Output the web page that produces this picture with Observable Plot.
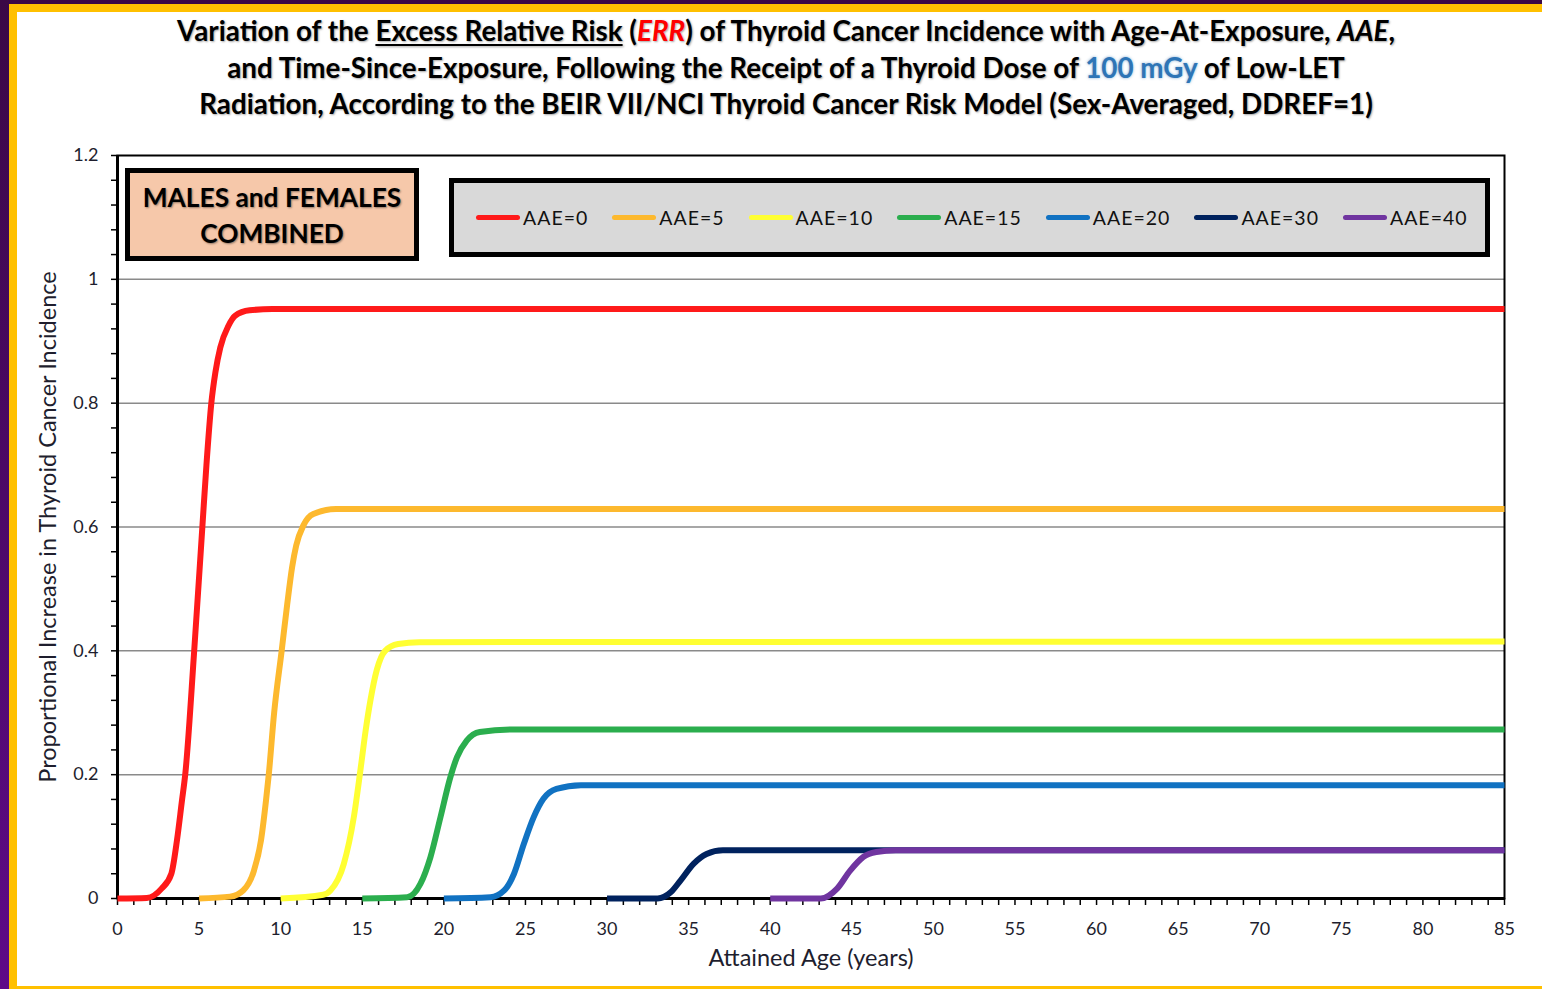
<!DOCTYPE html>
<html>
<head>
<meta charset="utf-8">
<script src="https://cdn.jsdelivr.net/npm/d3@7"></script>
<script src="https://cdn.jsdelivr.net/npm/@observablehq/plot@0.6"></script>
<style>
  html, body { margin: 0; padding: 0; }
  body {
    width: 1542px; height: 989px; overflow: hidden; position: relative;
    background: linear-gradient(to bottom, #3a0846, #5e0a88);
    font-family: Lato, "Open Sans", sans-serif;
  }
  #panel {
    position: absolute; left: 9px; top: 4px; width: 1600px; height: 974px;
    border: 8px solid #FFC000; background: #fff;
  }
  #chart { position: absolute; left: 0; top: 0; }
  #title {
    position: absolute; left: 136px; width: 1300px; top: 13px;
    text-align: center; font-weight: 700; font-size: 27.8px; line-height: 36.5px;
    color: #000; text-shadow: 1px 1px 2px rgba(0,0,0,0.35);
  }
  #title u { text-decoration-thickness: 2px; text-underline-offset: 3px; }
  #title .err { color: #ff0000; font-style: italic; }
  #title .dose { color: #2e75b6; text-shadow: 0 0 3px rgba(46,117,182,0.6); }
  #sexbox {
    position: absolute; left: 125px; top: 168px; width: 294px; height: 93px;
    box-sizing: border-box;
    border: 5px solid #000; background: #f6c8aa;
    display: flex; align-items: center; justify-content: center; text-align: center;
    font-weight: 700; font-size: 26.3px; line-height: 36px; color: #000;
    text-shadow: 1px 1px 2px rgba(0,0,0,0.4);
  }
  #legend {
    position: absolute; left: 449px; top: 178px; width: 1041px; height: 79px;
    box-sizing: border-box;
    border: 5px solid #000; background: #d9d9d9;
    display: flex; align-items: center; padding-left: 22px;
  }
  .item { display: flex; align-items: center; margin-right: 24px; font-size: 19.5px; letter-spacing: 1px; color: #111; }
  .swatch { width: 44px; height: 5px; border-radius: 3px; margin-right: 3px; }
</style>
</head>
<body>
<div id="panel"></div>
<div id="chart"></div>
<div id="title">Variation of the <u>Excess Relative Risk</u> (<span class="err">ERR</span>) of Thyroid Cancer Incidence with Age-At-Exposure, <i>AAE</i>,<br>and Time-Since-Exposure, Following the Receipt of a Thyroid Dose of <span class="dose">100 mGy</span> of Low-LET<br>Radiation, According to the BEIR VII/NCI Thyroid Cancer Risk Model (Sex-Averaged, DDREF=1)</div>
<div id="sexbox"><div>MALES and FEMALES<br>COMBINED</div></div>
<div id="legend"></div>
<script>
// Series names and colours
const seriesNames = ["AAE=0", "AAE=5", "AAE=10", "AAE=15", "AAE=20", "AAE=30", "AAE=40"];
const seriesColors = ["#ff1a1a", "#fdb92e", "#ffff33", "#2bae4e", "#1172c2", "#00225e", "#7035a0"];

// Attained age (years) and ERR values, per series
const age0 = [0, 1.8, 2.7, 3.3, 3.65, 3.95, 4.15, 4.7, 5.2, 5.45, 5.75, 6.0, 6.3, 6.8, 7.2, 8.1, 9.5, 85];
const err0 = [0, 0.001, 0.016, 0.04, 0.095, 0.158, 0.2, 0.4, 0.6, 0.7, 0.8, 0.85, 0.89, 0.925, 0.941, 0.95, 0.952, 0.952];
const age5 = [5, 6.9, 7.7, 8.35, 8.8, 9.1, 9.27, 9.6, 10.06, 10.4, 10.7, 10.95, 11.4, 12.0, 13.4, 85];
const err5 = [0, 0.003, 0.013, 0.044, 0.095, 0.158, 0.2, 0.3, 0.4, 0.475, 0.535, 0.57, 0.603, 0.621, 0.629, 0.629];
const age10 = [10, 12.6, 13.05, 13.87, 14.48, 14.9, 15.2, 15.5, 15.9, 16.4, 17.2, 18.5, 85];
const err10 = [0, 0.006, 0.013, 0.056, 0.131, 0.21, 0.27, 0.32, 0.37, 0.4, 0.411, 0.414, 0.415];
const age15 = [15, 17.75, 18.57, 19.18, 19.79, 20.4, 20.8, 21.4, 22.2, 24.3, 85];
const err15 = [0, 0.002, 0.024, 0.067, 0.131, 0.196, 0.228, 0.255, 0.269, 0.273, 0.273];
const age20 = [20, 22.85, 23.7, 24.3, 24.9, 25.5, 26.1, 26.9, 28.4, 85];
const err20 = [0, 0.002, 0.013, 0.04, 0.088, 0.131, 0.161, 0.177, 0.183, 0.183];
const age30 = [30, 33.1, 33.9, 34.5, 35.3, 36.1, 37.1, 85];
const err30 = [0, 0, 0.01, 0.029, 0.056, 0.072, 0.078, 0.078];
const age40 = [40, 43.1, 44.1, 44.9, 45.7, 46.5, 47.7, 85];
const err40 = [0, 0, 0.016, 0.045, 0.067, 0.075, 0.078, 0.078];

// Axis ticks
const xMajorTicks = [0, 5, 10, 15, 20, 25, 30, 35, 40, 45, 50, 55, 60, 65, 70, 75, 80, 85];
const yMajorTicks = [0, 0.2, 0.4, 0.6, 0.8, 1.0, 1.2];
const yGridTicks = [0.2, 0.4, 0.6, 0.8, 1.0];

const ages = [age0, age5, age10, age15, age20, age30, age40];
const errs = [err0, err5, err10, err15, err20, err30, err40];
const data = seriesNames.flatMap((name, i) => ages[i].map((a, j) => ({series: name, age: a, err: errs[i][j]})));

const xMinor = d3.range(0, 86, 1);
const yMinor = d3.range(0, 31, 1).map(k => k * 0.04);

const chart = Plot.plot({
  width: 1542,
  height: 989,
  marginLeft: 117,
  marginRight: 38,
  marginTop: 155,
  marginBottom: 91,
  style: {background: "transparent", fontFamily: "Lato, 'Open Sans', sans-serif", color: "#1e1e2e", overflow: "visible"},
  x: {domain: [0, 85], label: null},
  y: {domain: [0, 1.2], label: null},
  color: {domain: seriesNames, range: seriesColors},
  marks: [
    Plot.gridY(yGridTicks, {stroke: "#8a8a8a", strokeOpacity: 1, strokeWidth: 1.5}),
    Plot.frame({stroke: "#000", strokeWidth: 2}),
    Plot.axisX(xMinor, {tickSize: 7, tickFormat: () => "", strokeWidth: 1.5, stroke: "#000"}),
    Plot.axisX(xMajorTicks, {tickSize: 0, tickPadding: 24, fontSize: 18, tickFormat: d => String(d)}),
    Plot.axisY(yMinor, {tickSize: 6, tickFormat: () => "", strokeWidth: 1.5, stroke: "#000"}),
    Plot.axisY(yMajorTicks, {tickSize: 0, tickPadding: 19, fontSize: 18, tickFormat: d => String(+d.toFixed(1))}),
    Plot.ruleX([0], {stroke: "#000", strokeWidth: 3}),
    Plot.ruleY([0], {stroke: "#000", strokeWidth: 3}),
    Plot.line(data, {x: "age", y: "err", z: "series", stroke: "series", strokeWidth: 6, curve: "monotone-x", strokeLinecap: "butt"}),
    Plot.text(["Proportional Increase in Thyroid Cancer Incidence"], {frameAnchor: "left", dx: -69, rotate: -90, textAnchor: "middle", fontSize: 23.5, fill: "#1e1e2e"}),
    Plot.text(["Attained Age (years)"], {frameAnchor: "bottom", dy: 67, textAnchor: "middle", fontSize: 23.5, fill: "#1e1e2e"})
  ]
});
document.getElementById("chart").appendChild(chart);

// Legend
const legend = document.getElementById("legend");
seriesNames.forEach((name, i) => {
  const item = document.createElement("div");
  item.className = "item";
  const sw = document.createElement("div");
  sw.className = "swatch";
  sw.style.background = seriesColors[i];
  const lab = document.createElement("span");
  lab.textContent = name;
  item.appendChild(sw);
  item.appendChild(lab);
  legend.appendChild(item);
});
</script>
</body>
</html>
